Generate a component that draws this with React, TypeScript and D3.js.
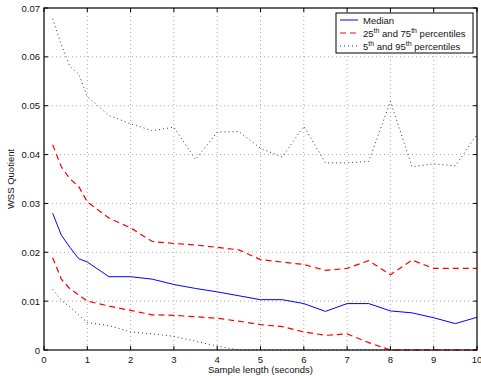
import { scaleLinear, line } from 'd3';

const width = 481;
const height = 376;
const margin = { top: 8, right: 4, bottom: 26, left: 44 };
const innerWidth = width - margin.left - margin.right;
const innerHeight = height - margin.top - margin.bottom;

// sample lengths (seconds)
const lengths = [0.2, 0.4, 0.6, 0.8, 1, 1.5, 2, 2.5, 3, 3.5, 4, 4.5, 5, 5.5, 6, 6.5, 7, 7.5, 8, 8.5, 9, 9.5, 10];
const median = [0.028, 0.0235, 0.021, 0.0187, 0.018, 0.015, 0.015, 0.0145, 0.0134, 0.0126, 0.0119, 0.0111, 0.0103, 0.0103, 0.0095, 0.0079, 0.0095, 0.0095, 0.008, 0.0076, 0.0066, 0.0054, 0.0067];
const p75 = [0.042, 0.0375, 0.035, 0.0335, 0.0303, 0.027, 0.025, 0.0222, 0.0218, 0.0215, 0.021, 0.0205, 0.0185, 0.018, 0.0175, 0.0163, 0.0167, 0.0183, 0.0154, 0.0184, 0.0167, 0.0167, 0.0167];
const p25 = [0.0189, 0.0145, 0.0125, 0.0113, 0.01, 0.009, 0.0081, 0.0072, 0.0071, 0.0068, 0.0065, 0.0059, 0.0052, 0.0048, 0.0037, 0.003, 0.0033, 0.0015, 0, 0, 0, 0, 0];
const p5 = [0.0124, 0.0102, 0.0088, 0.0072, 0.0056, 0.005, 0.0037, 0.0033, 0.0028, 0.0018, 0.0008, 0, 0, 0, 0, 0, 0, 0, 0, 0, 0, 0, 0];
const p95 = [0.0678, 0.0625, 0.058, 0.0565, 0.0519, 0.048, 0.0463, 0.0449, 0.0456, 0.039, 0.0446, 0.0447, 0.0413, 0.0395, 0.0458, 0.0383, 0.0383, 0.0386, 0.0509, 0.0375, 0.0381, 0.0377, 0.0441];

const xTicks = [0, 1, 2, 3, 4, 5, 6, 7, 8, 9, 10];
const yTicks = [0, 0.01, 0.02, 0.03, 0.04, 0.05, 0.06, 0.07];
const yTickLabels = ['0', '0.01', '0.02', '0.03', '0.04', '0.05', '0.06', '0.07'];

const font = 'Liberation Sans, Arial, Helvetica, sans-serif';

export default function App() {
  const xScale = scaleLinear().domain([0, 10]).range([0, innerWidth]);
  const yScale = scaleLinear().domain([0, 0.07]).range([innerHeight, 0]);
  const path = (vals: number[]) =>
    line<number>()
      .x((_, i) => xScale(lengths[i]))
      .y((d) => yScale(d))(vals) || '';

  const series = [
    { vals: p95, stroke: '#333', dash: '1 3', width: 1 },
    { vals: p5, stroke: '#333', dash: '1 3', width: 1 },
    { vals: p75, stroke: '#ff0000', dash: '6 4', width: 1.2 },
    { vals: p25, stroke: '#ff0000', dash: '6 4', width: 1.2 },
    { vals: median, stroke: '#0000ff', dash: undefined, width: 1 },
  ];

  const legend = [
    { stroke: '#0000ff', dash: undefined, a: 'Median' },
    { stroke: '#ff0000', dash: '6 4', a: '25', b: 'th', c: ' and 75', d: 'th', e: ' percentiles' },
    { stroke: '#333', dash: '1 3', a: '5', b: 'th', c: ' and 95', d: 'th', e: ' percentiles' },
  ];

  return (
    <svg width={width} height={height} style={{ position: 'absolute', left: 0, top: 0 }} fontFamily={font}>
      <rect width={width} height={height} fill="#fff" />
      <g transform={`translate(${margin.left},${margin.top})`}>
        {xTicks.slice(1, -1).map((t) => (
          <line key={'gx' + t} x1={xScale(t)} x2={xScale(t)} y1={0} y2={innerHeight} stroke="#aaa" strokeDasharray="1 3" />
        ))}
        {yTicks.slice(1, -1).map((t) => (
          <line key={'gy' + t} x1={0} x2={innerWidth} y1={yScale(t)} y2={yScale(t)} stroke="#aaa" strokeDasharray="1 3" />
        ))}
        {series.map((s, i) => (
          <path key={i} d={path(s.vals)} fill="none" stroke={s.stroke} strokeWidth={s.width} strokeDasharray={s.dash} />
        ))}
        <rect x={0} y={0} width={innerWidth} height={innerHeight} fill="none" stroke="#000" strokeWidth={1.2} />
        {xTicks.map((t) => (
          <g key={'tx' + t}>
            <line x1={xScale(t)} x2={xScale(t)} y1={innerHeight} y2={innerHeight - 4} stroke="#000" />
            <line x1={xScale(t)} x2={xScale(t)} y1={0} y2={4} stroke="#000" />
            <text x={xScale(t)} y={innerHeight + 13} fontSize={9.5} textAnchor="middle" fill="#111">
              {t}
            </text>
          </g>
        ))}
        {yTicks.map((t, i) => (
          <g key={'ty' + t}>
            <line x1={0} x2={4} y1={yScale(t)} y2={yScale(t)} stroke="#000" />
            <line x1={innerWidth} x2={innerWidth - 4} y1={yScale(t)} y2={yScale(t)} stroke="#000" />
            <text x={-4} y={yScale(t) + 3.5} fontSize={9.5} textAnchor="end" fill="#111">
              {yTickLabels[i]}
            </text>
          </g>
        ))}
        <text x={innerWidth / 2} y={innerHeight + 23} fontSize={9.5} textAnchor="middle" fill="#111">
          Sample length (seconds)
        </text>
        <text transform={`translate(${-30},${innerHeight / 2}) rotate(-90)`} fontSize={9.5} textAnchor="middle" fill="#111">
          WSS Quotient
        </text>
        <g transform={`translate(${292},${5})`}>
          <rect x={0} y={0} width={137} height={40} fill="#fff" stroke="#000" strokeWidth={1} />
          {legend.map((l, i) => (
            <g key={i} transform={`translate(0,${7 + i * 13})`}>
              <line x1={4} x2={22} y1={0} y2={0} stroke={l.stroke} strokeDasharray={l.dash} />
              <text x={27} y={3.5} fontSize={9.5} fill="#111">
                {l.a}
                {l.b && (
                  <tspan fontSize={7} dy={-3.5}>
                    {l.b}
                  </tspan>
                )}
                {l.c && <tspan dy={3.5}>{l.c}</tspan>}
                {l.d && (
                  <tspan fontSize={7} dy={-3.5}>
                    {l.d}
                  </tspan>
                )}
                {l.e && <tspan dy={3.5}>{l.e}</tspan>}
              </text>
            </g>
          ))}
        </g>
      </g>
    </svg>
  );
}
